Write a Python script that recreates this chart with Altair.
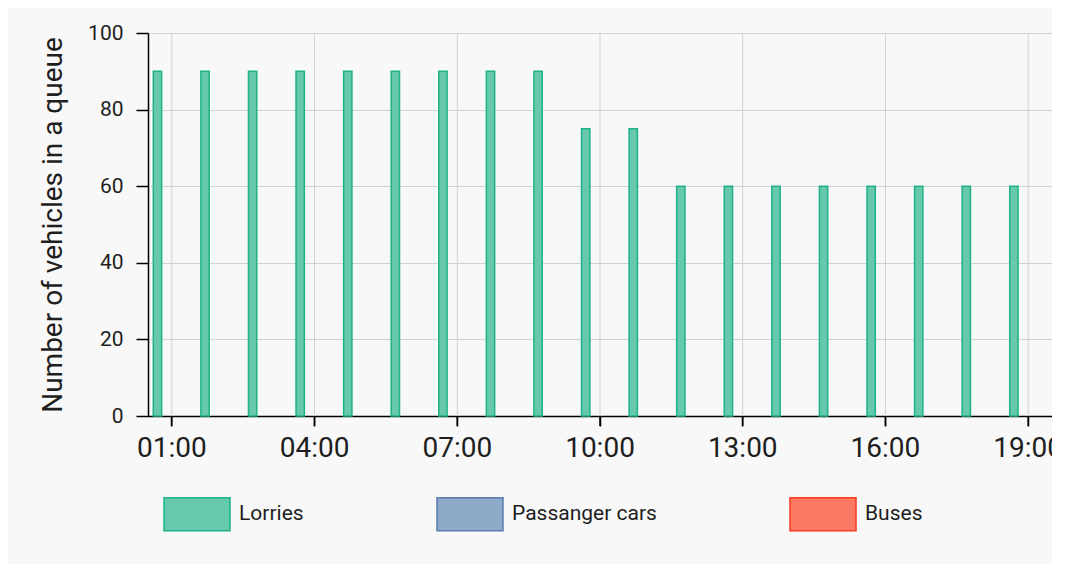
import altair as alt
import pandas as pd

# ---- data ----
hours = ["01:00", "02:00", "03:00", "04:00", "05:00", "06:00", "07:00", "08:00",
         "09:00", "10:00", "11:00", "12:00", "13:00", "14:00", "15:00", "16:00",
         "17:00", "18:00", "19:00"]
lorries = [90, 90, 90, 90, 90, 90, 90, 90, 90, 75, 75, 60, 60, 60, 60, 60, 60, 60, 60]
passenger_cars = [0, 0, 0, 0, 0, 0, 0, 0, 0, 0, 0, 0, 0, 0, 0, 0, 0, 0, 0]
buses = [0, 0, 0, 0, 0, 0, 0, 0, 0, 0, 0, 0, 0, 0, 0, 0, 0, 0, 0]
types = ["Lorries", "Passanger cars", "Buses"]
x_tick_labels = ["01:00", "04:00", "07:00", "10:00", "13:00", "16:00", "19:00"]
y_ticks = [0, 20, 40, 60, 80, 100]

fills = ["#66c9ad", "#8fa9c8", "#fc7a63"]
strokes = ["#1db386", "#5a7db0", "#f53a1f"]

rows = []
for series_name, series in zip(types, [lorries, passenger_cars, buses]):
    for h, v in zip(hours, series):
        rows.append({"time": h, "type": series_name, "value": v})
df = pd.DataFrame(rows)
grid_df = pd.DataFrame({"time": x_tick_labels})

FONT = "Roboto"
TXT = "#1e1e1e"
GRID = "#d2d2d2"

x_scale = alt.Scale(domain=hours, paddingInner=0, paddingOuter=0)
x_axis = alt.Axis(
    title=None,
    values=x_tick_labels,
    labelAngle=0,
    labelFont=FONT,
    labelFontSize=28,
    labelColor=TXT,
    labelPadding=8,
    ticks=True,
    tickSize=10,
    tickWidth=1.5,
    tickColor="black",
    domainColor="black",
    domainWidth=1.5,
    grid=False,
)

legend = alt.Legend(
    title=None,
    orient="none",
    legendX=15,
    legendY=447,
    direction="horizontal",
    symbolType="M-1,-0.5H1V0.5H-1Z",
    symbolSize=4356,
    symbolStrokeWidth=1.5,
    symbolOpacity=1,
    labelFont=FONT,
    labelFontSize=21,
    labelColor=TXT,
    labelOffset=8,
    columnPadding=130,
    padding=0,
)

y_enc = alt.Y(
    "value:Q",
    scale=alt.Scale(domain=[0, 100], nice=False),
    axis=alt.Axis(
        title="Number of vehicles in a queue",
        titleFont=FONT,
        titleFontSize=28,
        titleFontWeight="normal",
        titleColor=TXT,
        titlePadding=20,
        values=y_ticks,
        labelFont=FONT,
        labelFontSize=21,
        labelColor=TXT,
        labelPadding=13,
        tickSize=12,
        tickWidth=1.5,
        tickColor="black",
        domainColor="black",
        domainWidth=1.5,
        grid=True,
        gridColor=GRID,
        gridWidth=1,
    ),
)

vgrid = alt.Chart(grid_df).mark_rule(color=GRID, strokeWidth=1).encode(
    x=alt.X("time:O", sort=hours, scale=x_scale, axis=x_axis),
)

bars = alt.Chart(df).transform_filter(
    "datum.value > 0"
).mark_bar(strokeWidth=1.5, opacity=1).encode(
    x=alt.X("time:O", sort=hours, scale=x_scale, axis=x_axis),
    xOffset=alt.XOffset(
        "type:N",
        sort=types,
        scale=alt.Scale(domain=types, paddingInner=0.42, paddingOuter=0.37),
    ),
    y=y_enc,
    fill=alt.Fill("type:N", sort=types, scale=alt.Scale(domain=types, range=fills), legend=legend),
    stroke=alt.Stroke("type:N", sort=types, scale=alt.Scale(domain=types, range=strokes), legend=legend),
)

# tick marks under the x axis at the labelled hours
xticks = alt.Chart(grid_df).mark_tick(
    orient="vertical", size=10, thickness=1.5, color="black", opacity=1, yOffset=5
).encode(
    x=alt.X("time:O", sort=hours, scale=x_scale, axis=x_axis),
    y=alt.datum(0),
)

chart = alt.layer(vgrid, bars, xticks).properties(
    width=904,
    height=383,
    background="#f8f8f8",
    autosize=alt.AutoSizeParams(type="none"),
    padding={"left": 140, "top": 25, "right": 0, "bottom": 148},
).configure_view(strokeWidth=0)

chart.save("out.html", embed_options={"renderer": "svg", "actions": False})
